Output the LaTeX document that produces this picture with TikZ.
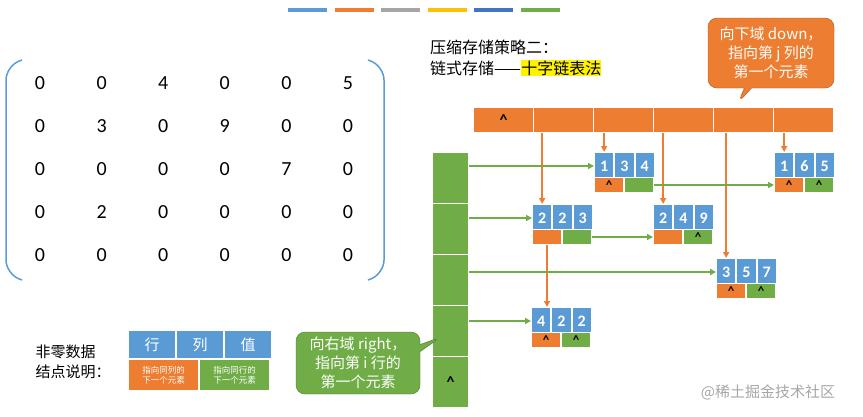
\documentclass[tikz,border=0pt]{standalone}
\usepackage{fontspec}
\setmainfont{Carlito}
\newfontfamily\cjk{Noto Sans CJK SC}
\usetikzlibrary{arrows.meta,shapes.callouts,calc}
\definecolor{cblue}{RGB}{91,155,213}
\definecolor{corange}{RGB}{237,125,49}
\definecolor{cgreen}{RGB}{112,173,71}
\definecolor{cgray}{RGB}{165,165,165}
\definecolor{cyellow}{RGB}{255,192,0}
\definecolor{cdblue}{RGB}{68,114,196}
\tikzset{
  cell/.style={draw=white, line width=1pt, inner sep=0pt, anchor=north west, font=\bfseries\fontsize{16}{16}\selectfont},
  bcell/.style={cell, fill=cblue, text=white, minimum width=19.3pt, minimum height=27pt},
  ocell/.style={cell, fill=corange, minimum width=29pt, minimum height=15pt},
  gcell/.style={cell, fill=cgreen, minimum width=29pt, minimum height=15pt},
  rowptr/.style={-{Triangle[length=6pt,width=6pt]}, cgreen, line width=1.6pt},
  colptr/.style={-{Triangle[length=6pt,width=6pt]}, corange, line width=1.6pt},
  num/.style={font=\fontsize{20}{20}\selectfont},
  nil/.style={font=\bfseries\fontsize{13}{13}\selectfont},
}
\newcommand{\elem}[6]{%
  \node[bcell] (#1r) at (#2,#3) {#4};
  \node[bcell] (#1c) at ($(#1r.north east)$) {#5};
  \node[bcell] (#1v) at ($(#1c.north east)$) {#6};
  \node[ocell] (#1d) at ($(#1r.south west)+(0,-3)$) {};
  \node[gcell] (#1g) at ($(#1d.north east)$) {};
}
\begin{document}
\begin{tikzpicture}[x=1pt,y=-1pt]
\useasboundingbox (0,0) rectangle (863,416);
% colour strip
\foreach \c [count=\i from 0] in {cblue,corange,cgray,cyellow,cdblue,cgreen}
  \draw[\c, line width=4pt] (288+\i*46.5,10) -- (327+\i*46.5,10);
% matrix
\draw[cblue, line width=1.5pt, rounded corners=14pt] (22,60) -- (6,66) -- (6,274) -- (22,280);
\draw[cblue, line width=1.5pt, rounded corners=14pt] (368,60) -- (384,66) -- (384,274) -- (368,280);
\foreach \row [count=\r from 0] in {{0,0,4,0,0,5},{0,3,0,9,0,0},{0,0,0,0,7,0},{0,2,0,0,0,0},{0,0,0,0,0,0}}
  \foreach \v [count=\c from 0] in \row
    \node[num] (m\r\c) at (40+\c*61.6,83+\r*43) {\v};
% title
\node[anchor=west, font=\cjk\fontsize{16}{16}\selectfont, inner xsep=0pt] (t1) at (430,47) {压缩存储策略二：};
\node[anchor=west, font=\cjk\fontsize{16}{16}\selectfont, inner xsep=0pt] (t2) at (430,68) {链式存储——};
\node[anchor=west, font=\cjk\fontsize{16}{16}\selectfont, fill=yellow, inner xsep=0pt, inner ysep=1pt] (t3) at (t2.east) {十字链表法};
% column heads
\foreach \i in {1,...,6}
  \node[cell, fill=corange, minimum width=60pt, minimum height=25pt] (h\i) at (473+\i*60-60,107) {\ifnum\i=1 \textasciicircum\fi};
% row heads
\foreach \i in {1,...,5}
  \node[cell, fill=cgreen, minimum width=36pt, minimum height=51pt] (v\i) at (432,152+\i*51-51) {\ifnum\i=5 \textasciicircum\fi};
% elements
\elem{a}{594}{152}{1}{3}{4}
\elem{b}{774}{152}{1}{6}{5}
\elem{c}{532}{204}{2}{2}{3}
\elem{d}{653}{204}{2}{4}{9}
\elem{e}{716}{258}{3}{5}{7}
\elem{f}{531}{307}{4}{2}{2}
\foreach \n in {ad,bd,bg,dg,ed,eg,fd,fg} \node[nil] at (\n) {\textasciicircum};
% down pointers
\draw[colptr] (cr.north |- h2.south) -- (cr.north);
\draw[colptr] (ar.north |- h3.south) -- (ar.north);
\draw[colptr] (dr.north |- h4.south) -- (dr.north);
\draw[colptr] (er.north |- h5.south) -- (er.north);
\draw[colptr] (br.north |- h6.south) -- (br.north);
\draw[colptr] (cd) -- (cd |- fr.north);
% right pointers
\draw[rowptr] (v1.east |- ar.west) -- (ar.west);
\draw[rowptr] (ag.east) -- (ag.east -| bd.west);
\draw[rowptr] (v2.east |- cr.west) -- (cr.west);
\draw[rowptr] (cg.east) -- (dd.west);
\draw[rowptr] (v3.east |- er.west) -- (er.west);
\draw[rowptr] (v4.east |- fr.west) -- (fr.west);
% callouts
\node[rectangle callout, rounded corners=9pt, fill=corange, draw=corange!70!black, text=white, align=center,
  font=\cjk\fontsize{15}{19}\selectfont, minimum width=126pt, minimum height=70pt, inner sep=2pt,
  callout absolute pointer={(738,103)}] (down) at (771,53) {向下域 down，\\指向第 j 列的\\第一个元素};
\node[rectangle callout, rounded corners=9pt, fill=cgreen, draw=cgreen!70!black, text=white, align=center,
  font=\cjk\fontsize{15}{19}\selectfont, minimum width=124pt, minimum height=62pt, inner sep=2pt,
  callout absolute pointer={(441,337)}] (right) at (358,363) {向右域 right，\\指向第 i 行的\\第一个元素};
% legend
\node[align=left, font=\cjk\fontsize{15}{20}\selectfont] (lg) at (73,362) {非零数据\\结点说明：};
\node[cell, fill=cblue, text=white, minimum width=47pt, minimum height=28pt, font=\cjk\fontsize{15}{15}\selectfont] (lr) at (128,330) {行};
\node[cell, fill=cblue, text=white, minimum width=47pt, minimum height=28pt, font=\cjk\fontsize{15}{15}\selectfont] (lc) at (lr.north east) {列};
\node[cell, fill=cblue, text=white, minimum width=47pt, minimum height=28pt, font=\cjk\fontsize{15}{15}\selectfont] (lv) at (lc.north east) {值};
\node[cell, fill=corange, text=white, minimum width=70pt, minimum height=31pt, align=center, font=\cjk\fontsize{8.5}{9.5}\selectfont] (lo) at (lr.south west) {指向同列的\\下一个元素};
\node[cell, fill=cgreen, text=white, minimum width=70pt, minimum height=31pt, align=center, font=\cjk\fontsize{8.5}{9.5}\selectfont] (lgr) at (lo.north east) {指向同行的\\下一个元素};
% watermark
\node[text=gray!70, font=\cjk\fontsize{15}{15}\selectfont] (wm) at (768,392) {@稀土掘金技术社区};
\end{tikzpicture}
\end{document}
